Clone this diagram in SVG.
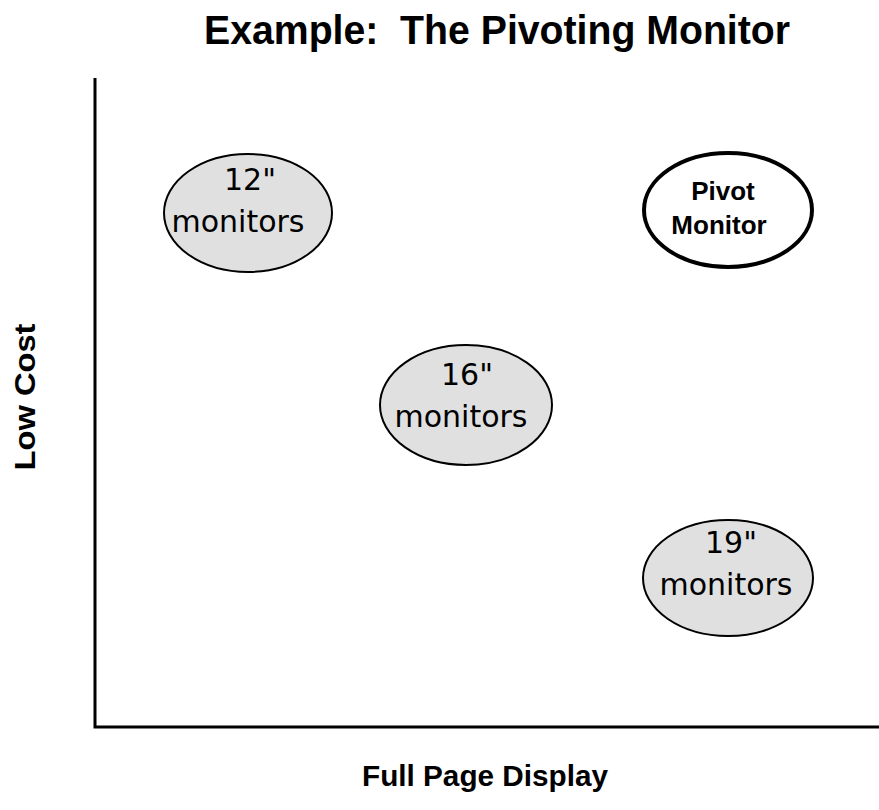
<svg xmlns="http://www.w3.org/2000/svg" width="879" height="810" viewBox="0 0 879 810">
<style>
text{font-family:"Liberation Sans",Arial,sans-serif;fill:#000;text-anchor:middle}
.t{font-family:"DejaVu Sans","Liberation Sans",sans-serif;font-size:30px}
.b{font-weight:bold}
.fill{fill:#e0e0e0;stroke:#000;stroke-width:2}
.pivot{fill:#fff;stroke:#000;stroke-width:4}
.axis{stroke:#000;stroke-width:3;fill:none}
</style>
<rect width="879" height="810" fill="#fff"/>
<text x="497" y="44" class="b" font-size="40" textLength="586" lengthAdjust="spacingAndGlyphs">Example:&#160; The Pivoting Monitor</text>
<g id="axes">
<path class="axis" d="M95,78 V727 H879"/>
</g>
<text transform="translate(35,397) rotate(-90)" class="b" font-size="30" textLength="147" lengthAdjust="spacingAndGlyphs">Low Cost</text>
<text x="485" y="786" class="b" font-size="30" textLength="246" lengthAdjust="spacingAndGlyphs">Full Page Display</text>
<g id="n12">
<ellipse class="fill" cx="248" cy="213" rx="84" ry="59"/>
<text class="t" x="250" y="190">12"</text>
<text class="t" x="238" y="232">monitors</text>
</g>
<g id="pivot">
<ellipse class="pivot" cx="728" cy="210" rx="84" ry="57"/>
<text class="b" font-size="26" x="723" y="200">Pivot</text>
<text class="b" font-size="26" x="719" y="234">Monitor</text>
</g>
<g id="n16">
<ellipse class="fill" cx="466" cy="405" rx="86" ry="60"/>
<text class="t" x="467" y="385">16"</text>
<text class="t" x="461" y="427">monitors</text>
</g>
<g id="n19">
<ellipse class="fill" cx="728" cy="578" rx="85" ry="58"/>
<text class="t" x="731" y="553">19"</text>
<text class="t" x="726" y="595">monitors</text>
</g>
</svg>
